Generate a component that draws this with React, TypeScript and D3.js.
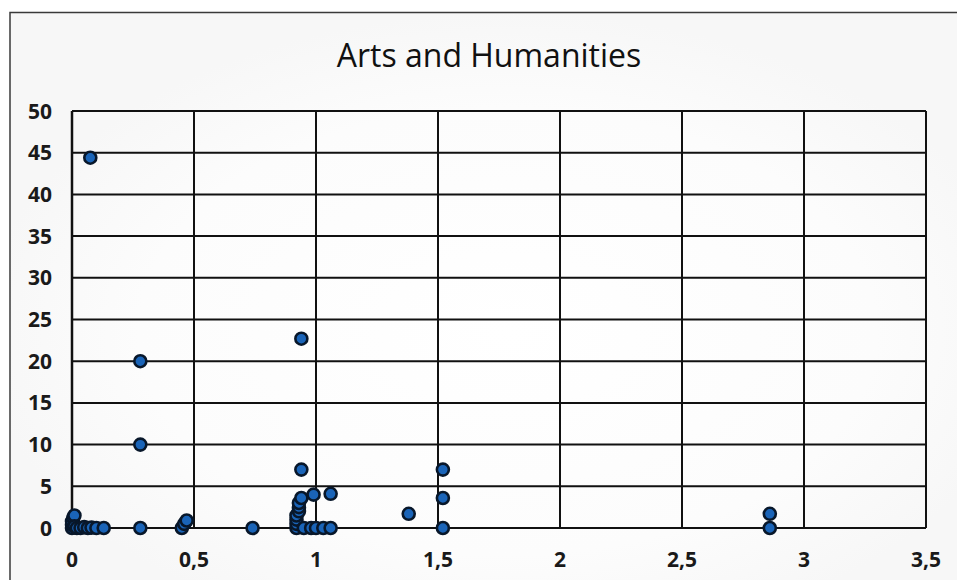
import React from 'react';
import { scaleLinear, range } from 'd3';

const W = 957;
const H = 580;

const title = 'Arts and Humanities';

// x = score, y = count
const xValues = [
  0, 0, 0, 0.005, 0.01, 0.01, 0.02, 0.035, 0.05, 0.065, 0.08, 0.1, 0.13,
  0.075,
  0.28, 0.28, 0.28,
  0.45, 0.46, 0.47,
  0.74,
  0.92, 0.92, 0.92, 0.92, 0.93, 0.93, 0.93, 0.94, 0.94, 0.94,
  0.95, 0.98, 1.0, 1.03, 1.06,
  0.99, 1.06,
  1.38,
  1.52, 1.52, 1.52,
  2.86, 2.86,
];
const yValues = [
  0, 0.4, 0.8, 1.2, 1.5, 0.2, 0, 0, 0.1, 0, 0.05, 0, 0,
  44.4,
  20, 10, 0,
  0, 0.5, 0.9,
  0,
  0, 0.5, 1, 1.5, 2, 2.5, 3, 3.6, 7, 22.7,
  0, 0, 0, 0, 0,
  4.0, 4.1,
  1.7,
  7, 3.6, 0,
  1.7, 0,
];

const xTicks = range(0, 3.51, 0.5);
const yTicks = range(0, 51, 5);
const fmtX = (d: number) => String(+d.toFixed(1)).replace('.', ',');

const App: React.FC = () => {
  const x = scaleLinear([0, 3.5], [72, 926]);
  const y = scaleLinear([0, 50], [528, 111]);
  const labelFont = '"Open Sans", sans-serif';

  return (
    <svg width={W} height={H} style={{ position: 'absolute', left: 0, top: 0 }}>
      <defs>
        <radialGradient id="glow" cx="0.52" cy="0.55" r="0.55">
          <stop offset="0" stopColor="#ffffff" />
          <stop offset="0.7" stopColor="#fcfcfc" />
          <stop offset="1" stopColor="#f7f7f7" />
        </radialGradient>
      </defs>
      <rect x={0} y={0} width={W} height={H} fill="#ffffff" />
      <rect x={10} y={12.5} width={W} height={H} fill="url(#glow)" stroke="#3a3a3a" strokeWidth={1.5} />

      <text x={489} y={67} textAnchor="middle" fontFamily={labelFont} fontSize={32} fill="#111">
        {title}
      </text>

      {/* gridlines */}
      {yTicks.filter(t => t > 0).map(t => (
        <line key={'gy' + t} x1={x(0)} x2={x(3.5)} y1={y(t)} y2={y(t)} stroke="#111" strokeWidth={2} />
      ))}
      {xTicks.filter(t => t > 0).map(t => (
        <line key={'gx' + t} x1={x(t)} x2={x(t)} y1={y(0)} y2={y(50)} stroke="#111" strokeWidth={2} />
      ))}
      <line x1={x(0)} x2={x(3.5)} y1={y(0)} y2={y(0)} stroke="#111" strokeWidth={2} />
      <line x1={x(0)} x2={x(0)} y1={y(0)} y2={y(50)} stroke="#111" strokeWidth={2.5} />

      {/* tick labels */}
      {yTicks.map(t => (
        <text key={'ly' + t} x={52} y={y(t) + 7.5} textAnchor="end" fontFamily={labelFont} fontWeight={700} fontSize={21} fill="#1a1a1a">
          {t}
        </text>
      ))}
      {xTicks.map(t => (
        <text key={'lx' + t} x={x(t)} y={567} textAnchor="middle" fontFamily={labelFont} fontWeight={700} fontSize={21} fill="#1a1a1a">
          {fmtX(t)}
        </text>
      ))}

      {/* points */}
      {xValues.map((v, i) => (
        <circle key={i} cx={x(v)} cy={y(yValues[i])} r={6} fill="#1a64b8" stroke="#08172a" strokeWidth={2.6} />
      ))}
    </svg>
  );
};

export default App;
